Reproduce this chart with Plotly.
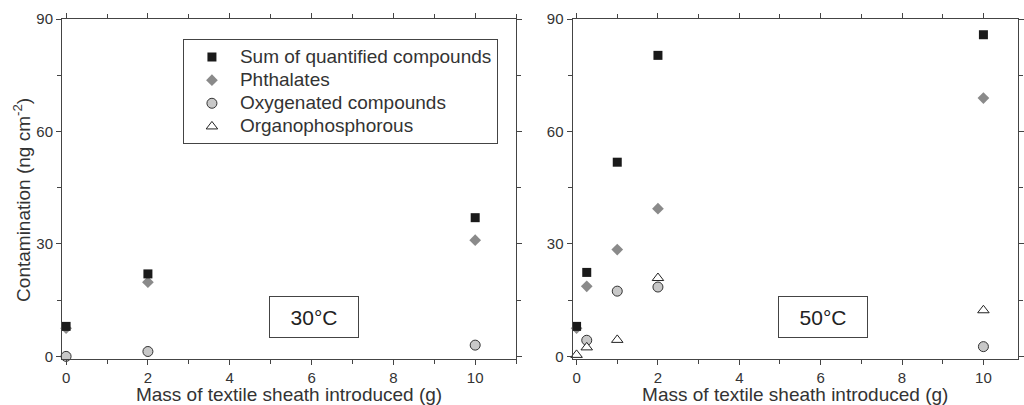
import plotly.graph_objects as go

# 30 °C panel
x30 = [0, 2, 10]
sum30 = [8.0, 22.0, 37.0]
phth30 = [7.5, 19.8, 31.0]
oxy30 = [0.0, 1.3, 3.0]
org30 = [None, None, None]

# 50 °C panel
x50 = [0, 0.25, 1, 2, 10]
sum50 = [8.0, 22.4, 51.8, 80.3, 85.8]
phth50 = [7.5, 18.7, 28.5, 39.4, 68.9]
oxy50 = [None, 4.3, 17.4, 18.5, 2.6]
org50 = [0.4, 2.4, 4.4, 20.9, 12.3]

# name, symbol, size, fill, edge, edge width, legend rank
STYLE = {
    "sum": ("Sum of quantified compounds", "square", 9, "#1a1a1a", "#1a1a1a", 0, 1),
    "phth": ("Phthalates", "diamond", 9, "#8a8a8a", "#8a8a8a", 0, 2),
    "oxy": ("Oxygenated compounds", "circle", 10, "#c8c8c8", "#333333", 1, 3),
    "org": ("Organophosphorous", "triangle-up", 10, "#ffffff", "#222222", 1, 4),
}

FONT = "Liberation Sans, Arial, sans-serif"
INK = "#333333"
LINE = "#444444"

fig = go.Figure()


def add_series(key, xs, ys, xaxis, yaxis, legend):
    name, sym, size, fill, edge, lw, rank = STYLE[key]
    fig.add_trace(
        go.Scatter(
            x=xs,
            y=ys,
            mode="markers",
            # bigger text than the legend font so rows stay tight (row height uses legend font)
            name=f'<span style="font-size:19px">{name}</span>',
            legendrank=rank,
            showlegend=legend,
            xaxis=xaxis,
            yaxis=yaxis,
            marker=dict(symbol=sym, size=size, color=fill, line=dict(width=lw, color=edge)),
            cliponaxis=False,
        )
    )


# draw order: circles, triangles, diamonds, squares on top
panel30 = {"oxy": oxy30, "org": org30, "phth": phth30, "sum": sum30}
panel50 = {"oxy": oxy50, "org": org50, "phth": phth50, "sum": sum50}
for key, ys in panel30.items():
    add_series(key, x30, ys, "x", "y", True)
for key, ys in panel50.items():
    add_series(key, x50, ys, "x2", "y2", False)

axis_common = dict(
    showline=True,
    linecolor=LINE,
    linewidth=1,
    mirror="allticks",
    ticks="outside",
    ticklen=5,
    tickcolor=LINE,
    showgrid=False,
    zeroline=False,
    tickfont=dict(size=15, color=INK, family=FONT),
)

xaxis_common = dict(
    axis_common,
    range=[-0.1, 11],
    tickvals=[0, 2, 4, 6, 8, 10],
    minor=dict(dtick=1, tick0=0, ticks="outside", ticklen=4, tickcolor=LINE),
    title=dict(text="Mass of textile sheath introduced (g)", standoff=0,
               font=dict(size=19, color=INK, family=FONT)),
)
yaxis_common = dict(
    axis_common,
    range=[-0.7, 90],
    tickvals=[0, 30, 60, 90],
    minor=dict(dtick=15, tick0=0, ticks="outside", ticklen=4, tickcolor=LINE),
)

fig.update_layout(
    width=1024,
    height=405,
    margin=dict(l=62, r=0, t=19, b=46),
    plot_bgcolor="white",
    paper_bgcolor="white",
    font=dict(family=FONT, color=INK),
    xaxis=dict(xaxis_common, domain=[0, 0.475], anchor="y"),
    yaxis=dict(yaxis_common, domain=[0, 1], anchor="x"),
    xaxis2=dict(xaxis_common, domain=[0.534, 1.0], anchor="y2", range=[-0.1, 10.85]),
    yaxis2=dict(yaxis_common, domain=[0, 1], anchor="x2"),
    legend=dict(
        x=0.1265,
        y=0.94,
        xanchor="left",
        yanchor="top",
        bordercolor=LINE,
        borderwidth=1,
        bgcolor="white",
        font=dict(size=15.5, color=INK, family=FONT),
        itemwidth=46,
        tracegroupgap=0,
    ),
)

# y title as annotation so it can sit a bit below the axis centre, like the original
fig.add_annotation(
    text="Contamination (ng cm<sup>-2</sup>)",
    xref="paper",
    yref="paper",
    x=0,
    y=0.468,
    xshift=-40,
    xanchor="center",
    yanchor="middle",
    textangle=-90,
    showarrow=False,
    font=dict(size=19, color=INK, family=FONT),
)

for xr, yr, label in [("x", "y", "30°C"), ("x2", "y2", "50°C")]:
    fig.add_annotation(
        x=6.05,
        y=10.6,
        xref=xr,
        yref=yr,
        text=label,
        showarrow=False,
        font=dict(size=21, color="#222222", family=FONT),
        bordercolor=LINE,
        borderwidth=1,
        borderpad=0,
        width=88,
        height=40,
        bgcolor="white",
    )

fig.write_html(
    "out.html",
    config={"displayModeBar": False},
    post_script="document.body.style.margin='0';",
)
